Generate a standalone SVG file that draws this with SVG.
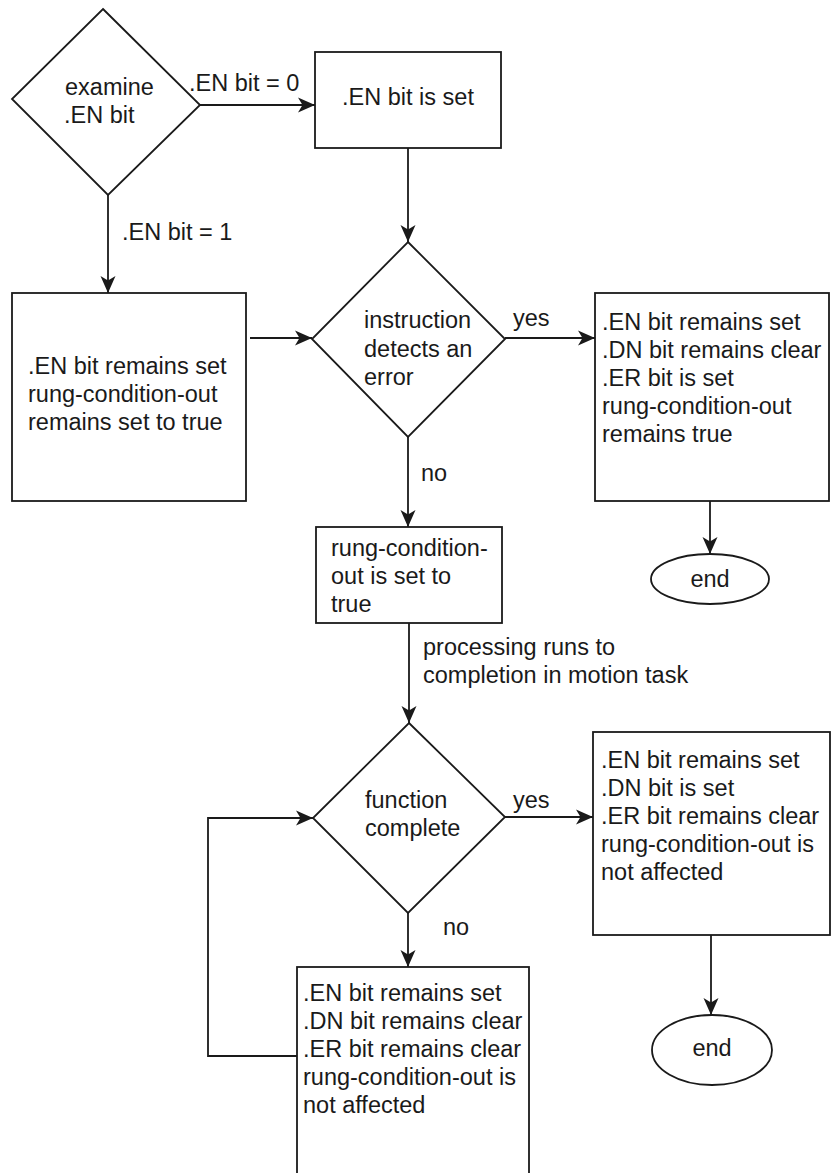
<svg xmlns="http://www.w3.org/2000/svg" width="832" height="1173" viewBox="0 0 832 1173">
<style>
.s{fill:#fff;stroke:#1a1a1a;stroke-width:1.8}
.c{fill:none;stroke:#1a1a1a;stroke-width:1.8}
text{font-family:"Liberation Sans",Arial,sans-serif;font-size:23.5px;fill:#1a1a1a}
.m{text-anchor:middle}
</style>
<defs>
<marker id="ah" markerUnits="userSpaceOnUse" markerWidth="18" markerHeight="18" refX="17" refY="9" orient="auto">
<path d="M0,1.5 L17,9 L0,16.5 L4.5,9 Z" fill="#1a1a1a"/>
</marker>
</defs>
<g id="connectors">
<path class="c" d="M200,105 L315,105" marker-end="url(#ah)"/>
<path class="c" d="M108,195 L108,293" marker-end="url(#ah)"/>
<path class="c" d="M408,148 L408,242" marker-end="url(#ah)"/>
<path class="c" d="M250,338 L312,338" marker-end="url(#ah)"/>
<path class="c" d="M505,338 L595,338" marker-end="url(#ah)"/>
<path class="c" d="M408,437 L408,527" marker-end="url(#ah)"/>
<path class="c" d="M710,501 L710,554" marker-end="url(#ah)"/>
<path class="c" d="M409,623 L409,723" marker-end="url(#ah)"/>
<path class="c" d="M505,817 L593,817" marker-end="url(#ah)"/>
<path class="c" d="M408,913 L408,967" marker-end="url(#ah)"/>
<path class="c" d="M711,935 L711,1015" marker-end="url(#ah)"/>
<path class="c" d="M297,1056 L208,1056 L208,818 L313,818" marker-end="url(#ah)"/>
<text x="189" y="91">.EN bit = 0</text>
<text x="122" y="240">.EN bit = 1</text>
<text x="513" y="326">yes</text>
<text x="421" y="481">no</text>
<text x="423" y="655">processing runs to</text>
<text x="423" y="683">completion in motion task</text>
<text x="513" y="808">yes</text>
<text x="443" y="935">no</text>
</g>
<g id="examine">
<polygon class="s" points="103,9 200,105 108,195 12,99"/>
<text x="65" y="95">examine</text>
<text x="64" y="123">.EN bit</text>
</g>
<g id="en-set">
<rect class="s" x="315" y="52" width="186" height="96"/>
<text class="m" x="408" y="105">.EN bit is set</text>
</g>
<g id="en-remains">
<rect class="s" x="12" y="293" width="234" height="208"/>
<text x="28" y="374">.EN bit remains set</text>
<text x="28" y="402">rung-condition-out</text>
<text x="28" y="430">remains set to true</text>
</g>
<g id="detects-error">
<polygon class="s" points="408,242 505,339 408,437 312,339"/>
<text x="364" y="328">instruction</text>
<text x="364" y="357">detects an</text>
<text x="364" y="385">error</text>
</g>
<g id="error-box">
<rect class="s" x="595" y="293" width="234" height="208"/>
<text x="602" y="330">.EN bit remains set</text>
<text x="602" y="358">.DN bit remains clear</text>
<text x="602" y="386">.ER bit is set</text>
<text x="602" y="414">rung-condition-out</text>
<text x="602" y="442">remains true</text>
</g>
<g id="end1">
<ellipse class="s" cx="710" cy="579" rx="59" ry="25"/>
<text class="m" x="710" y="587">end</text>
</g>
<g id="rung-true">
<rect class="s" x="316" y="527" width="186" height="96"/>
<text x="331" y="556">rung-condition-</text>
<text x="331" y="584">out is set to</text>
<text x="331" y="612">true</text>
</g>
<g id="function-complete">
<polygon class="s" points="409,723 505,817 408,913 313,818"/>
<text x="365" y="808">function</text>
<text x="365" y="836">complete</text>
</g>
<g id="done-box">
<rect class="s" x="593" y="732" width="237" height="203"/>
<text x="601" y="768">.EN bit remains set</text>
<text x="601" y="796">.DN bit is set</text>
<text x="601" y="824">.ER bit remains clear</text>
<text x="601" y="852">rung-condition-out is</text>
<text x="601" y="880">not affected</text>
</g>
<g id="end2">
<ellipse class="s" cx="712" cy="1050" rx="60" ry="35"/>
<text class="m" x="712" y="1056">end</text>
</g>
<g id="pending-box">
<rect class="s" x="297" y="967" width="232" height="220"/>
<text x="303" y="1001">.EN bit remains set</text>
<text x="303" y="1029">.DN bit remains clear</text>
<text x="303" y="1057">.ER bit remains clear</text>
<text x="303" y="1085">rung-condition-out is</text>
<text x="303" y="1113">not affected</text>
</g>
</svg>
